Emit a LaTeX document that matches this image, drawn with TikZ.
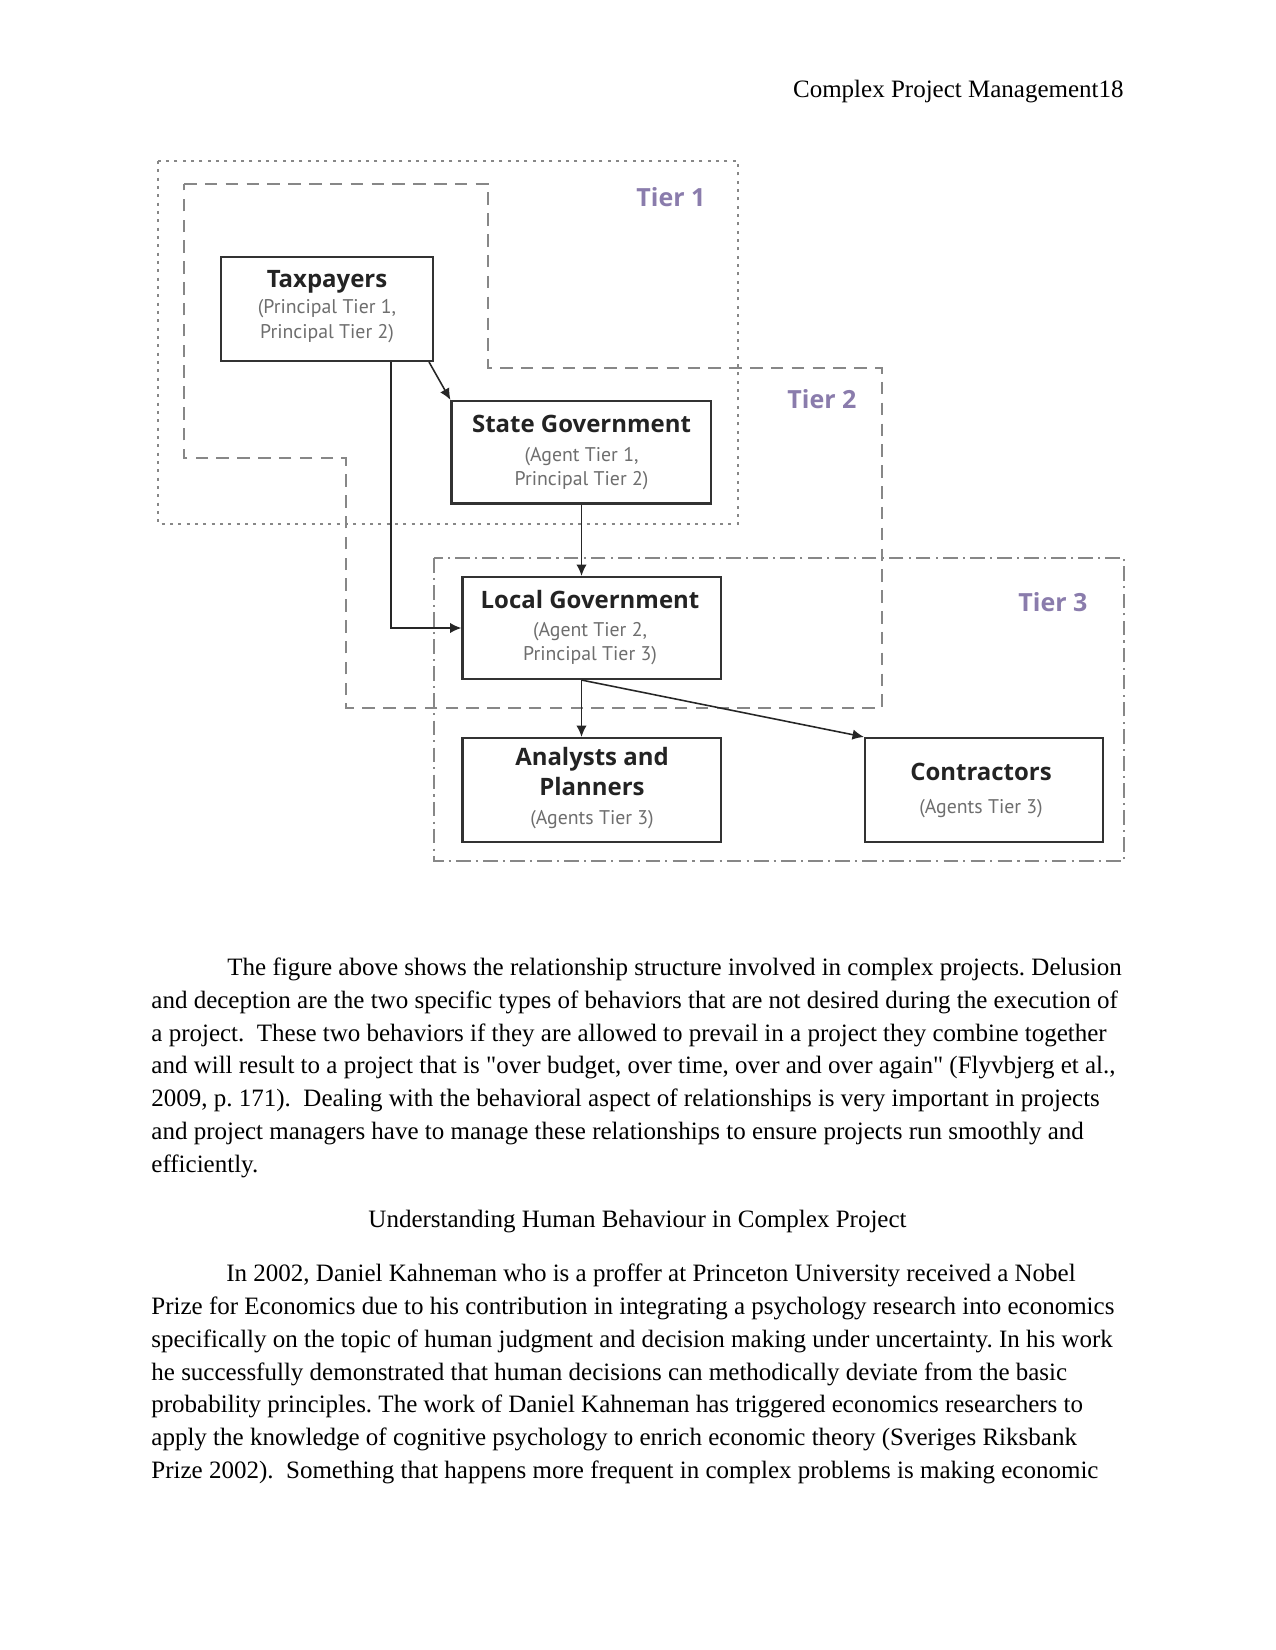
\documentclass[tikz,border=0pt]{standalone}
\usepackage{fontspec}
\setmainfont{Liberation Serif}[Ligatures=TeXOff]
\newfontfamily\titlef{Open Sans}
\newfontfamily\subf{PT Sans}
\usetikzlibrary{arrows.meta,calc,fit}
\definecolor{tierpurple}{RGB}{138,124,172}
\definecolor{boxline}{RGB}{50,50,50}
\definecolor{tierline}{RGB}{135,135,135}
\definecolor{titlecol}{RGB}{35,35,35}
\definecolor{subcol}{RGB}{110,110,110}
\begin{document}
\frenchspacing
\begin{tikzpicture}[x=0.48pt,y=-0.48pt,
  box/.style={draw=boxline, line width=1pt, inner sep=0pt},
  titletxt/.style={font=\titlef\bfseries\fontsize{11.5}{13}\selectfont, text=titlecol, anchor=base, inner sep=0pt},
  subtxt/.style={font=\subf\fontsize{9.5}{11.5}\selectfont, text=subcol, anchor=base, inner sep=0pt},
  tiertxt/.style={font=\titlef\bfseries\fontsize{12}{14}\selectfont, text=tierpurple, anchor=base west, inner sep=0pt},
  bodytxt/.style={font=\fontsize{12}{14}\selectfont, anchor=base west, inner sep=0pt},
  arr/.style={draw=black!85, line width=0.75pt, -{Latex[length=5.5pt,width=5pt]}},
  tierone/.style={draw=tierline, line width=0.85pt, dash pattern=on 1.4pt off 2.6pt},
  tiertwo/.style={draw=tierline, line width=1pt, dash pattern=on 6pt off 4pt},
  tierthree/.style={draw=tierline, line width=1pt, dash pattern=on 7pt off 2.5pt on 1pt off 2.5pt}]
\useasboundingbox[fill=white] (0,0) rectangle (1275,1650);

% header
\node[bodytxt, anchor=base east] (header) at (1124,97.3) {Complex Project Management18};

% tier regions
\draw[tierone] (158,161) rectangle (738,524);
\draw[tiertwo] (184,184) -- (488,184) -- (488,368) -- (882,368) -- (882,708) -- (346,708) -- (346,458) -- (184,458) -- cycle;
\draw[tierthree] (434,558) rectangle (1124,861);

\node[tiertxt] (t1) at (636,206.7) {Tier 1};
\node[tiertxt] (t2) at (787,408.3) {Tier 2};
\node[tiertxt] (t3) at (1018,611.7) {Tier 3};

% boxes
\node[box, fit={(221,257)(433,361)}] (tax) {};
\node[box, fit={(451.5,401)(711,503.5)}] (state) {};
\node[box, fit={(462.5,577)(721,679)}] (local) {};
\node[box, fit={(462.5,738)(721,842)}] (analysts) {};
\node[box, fit={(865,738)(1103,842)}] (contractors) {};

% box texts
\node[titletxt] (taxT) at (327,288) {Taxpayers};
\node[subtxt] (taxS1) at (327,314) {(Principal Tier 1,};
\node[subtxt] (taxS2) at (327,339) {Principal Tier 2)};

\node[titletxt] (stateT) at (581.5,433) {State Government};
\node[subtxt] (stateS1) at (581.5,461.7) {(Agent Tier 1,};
\node[subtxt] (stateS2) at (581.5,485) {Principal Tier 2)};

\node[titletxt] (localT) at (590,608) {Local Government};
\node[subtxt] (localS1) at (590,636.7) {(Agent Tier 2,};
\node[subtxt] (localS2) at (590,660) {Principal Tier 3)};

\node[titletxt] (anaT1) at (592,765) {Analysts and};
\node[titletxt] (anaT2) at (592,795) {Planners};
\node[subtxt] (anaS) at (592,824) {(Agents Tier 3)};

\node[titletxt] (conT) at (981,780.7) {Contractors};
\node[subtxt] (conS) at (981,813.3) {(Agents Tier 3)};

% connectors
\coordinate (taxdrop) at ($(tax.south west)!0.8!(tax.south east)$);
\coordinate (taxslant) at ($(tax.south east)+(-5,0)$);
\coordinate (statedrop) at (581.5,503.5);
\draw[arr] (taxslant) -- (state.north west);
\draw[arr] (taxdrop) |- (local.west);
\draw[arr] (state.south -| statedrop) -- (local.north -| statedrop);
\draw[arr] (local.south -| statedrop) -- (analysts.north -| statedrop);
\draw[arr] (local.south -| statedrop) -- (contractors.north west);

% body text
\node[bodytxt] (p1a) at (227,975.5) {The figure above shows the relationship structure involved in complex projects. Delusion};
\node[bodytxt] (p1b) at (151,1008.3) {and deception are the two specific types of behaviors that are not desired during the execution of};
\node[bodytxt] (p1c) at (151,1041.1) {a project.\ \ These two behaviors if they are allowed to prevail in a project they combine together};
\node[bodytxt] (p1d) at (151,1073.9) {and will result to a project that is "over budget, over time, over and over again" (Flyvbjerg et al.,};
\node[bodytxt] (p1e) at (151,1106.7) {2009, p. 171).\ \ Dealing with the behavioral aspect of relationships is very important in projects};
\node[bodytxt] (p1f) at (151,1139.5) {and project managers have to manage these relationships to ensure projects run smoothly and};
\node[bodytxt] (p1g) at (151,1172.3) {efficiently.};

\node[bodytxt, anchor=base] (head) at (637.5,1227.7) {Understanding Human Behaviour in Complex Project};

\node[bodytxt] (p2a) at (226,1281.7) {In 2002, Daniel Kahneman who is a proffer at Princeton University received a Nobel};
\node[bodytxt] (p2b) at (151,1314.5) {Prize for Economics due to his contribution in integrating a psychology research into economics};
\node[bodytxt] (p2c) at (151,1347.3) {specifically on the topic of human judgment and decision making under uncertainty. In his work};
\node[bodytxt] (p2d) at (151,1380.1) {he successfully demonstrated that human decisions can methodically deviate from the basic};
\node[bodytxt] (p2e) at (151,1412.9) {probability principles. The work of Daniel Kahneman has triggered economics researchers to};
\node[bodytxt] (p2f) at (151,1445.7) {apply the knowledge of cognitive psychology to enrich economic theory (Sveriges Riksbank};
\node[bodytxt] (p2g) at (151,1478.5) {Prize 2002).\ \ Something that happens more frequent in complex problems is making economic};
\end{tikzpicture}
\end{document}
